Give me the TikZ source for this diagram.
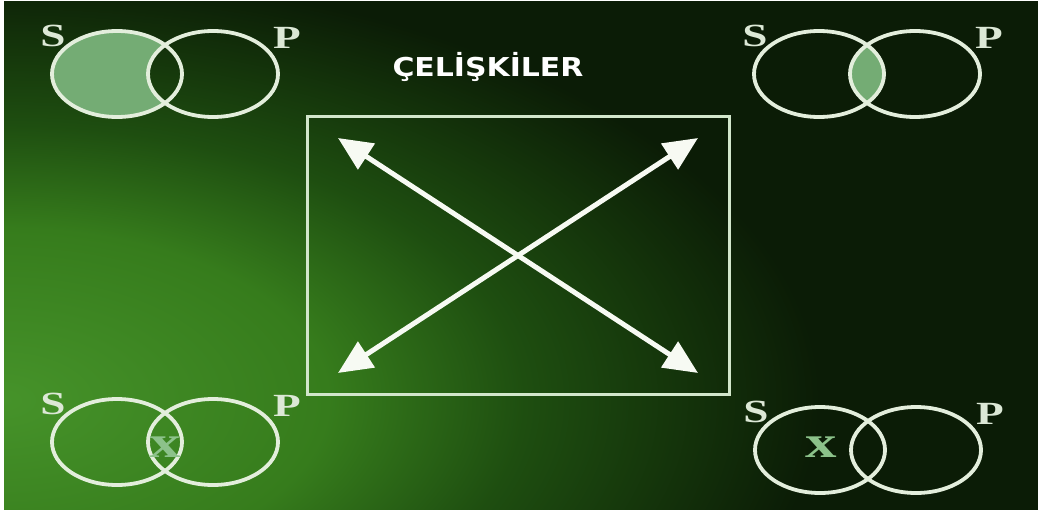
\documentclass[tikz,border=0pt]{standalone}
\usepackage{fontspec}
\setmainfont{Liberation Serif}
\newfontfamily\titlefont{DejaVu Sans}
\usepackage{graphicx}
\usepackage{xcolor}
\usetikzlibrary{
    arrows.meta,
    positioning,
    calc,
    shapes.geometric
}
\definecolor{bgdark}{HTML}{0B1C06}
\definecolor{glowin}{HTML}{46932A}
\definecolor{glowmid}{HTML}{367C1C}
\definecolor{glowlow}{HTML}{1E4E10}
\definecolor{ringcol}{HTML}{E3EEDC}
\definecolor{setfill}{HTML}{74AC74}
\definecolor{labelcol}{HTML}{DCE8D6}
\definecolor{markcol}{HTML}{8CC28A}
\definecolor{boxcol}{HTML}{D2E6CB}
\definecolor{arrowcol}{HTML}{F7FAF3}
\pgfdeclareradialshading{backglow}{\pgfpoint{0bp}{0bp}}{
    color(0bp)=(glowin); color(5bp)=(glowmid); color(8bp)=(glowlow);
    color(12.5bp)=(bgdark); color(50bp)=(bgdark)}
\newcommand{\stretchx}[2][1.4]{\scalebox{#1}[1]{#2}}
\tikzset{
    setring/.style={
        ellipse,
        draw=ringcol,
        line width=0.95mm,
        minimum width=32.5mm,
        minimum height=21.5mm,
        inner sep=0pt
    }
}
\tikzset{
    setlabel/.style={
        font=\fontsize{23}{25}\selectfont\bfseries,
        text=labelcol,
        inner sep=0pt
    }
}
\tikzset{
    elemmark/.style={
        font=\fontsize{32}{34}\selectfont\bfseries,
        text=markcol,
        inner sep=0pt
    }
}
\tikzset{
    titletext/.style={
        font=\titlefont\bfseries\fontsize{18.5}{20}\selectfont,
        text=white,
        inner sep=0pt
    }
}
\tikzset{
    squarebox/.style={
        draw=boxcol,
        line width=0.75mm,
        outer sep=0pt
    }
}
\tikzset{
    relarrow/.style={
        draw=arrowcol,
        line width=1.25mm,
        {Triangle[length=8.5mm,width=7.5mm]}-{Triangle[length=8.5mm,width=7.5mm]}
    }
}

\begin{document}
\begin{tikzpicture}[
    x=0.25mm,
    y=-0.25mm
]

\useasboundingbox (0,0) rectangle (1038,516);
\fill[white] (0,0) rectangle (1038,516);

% ------------------------------------------------------------
% Backdrop: dark green with a glow from the lower left
% ------------------------------------------------------------
\begin{scope}
    \clip (4,2) rectangle (1038,509);
    \fill[bgdark] (4,2) rectangle (1038,509);
    \shade[shading=backglow] (0,400) ellipse [x radius=1640, y radius=860];
\end{scope}

% ------------------------------------------------------------
% Square of opposition
% ------------------------------------------------------------
\node[squarebox, minimum width=105.5mm, minimum height=69.25mm] (square) at (518,255.5) {};
\coordinate (tl) at ($(square.north west)+(31,21)$);
\coordinate (tr) at ($(square.north east)+(-31,21)$);
\coordinate (bl) at ($(square.south west)+(31,-21)$);
\coordinate (br) at ($(square.south east)+(-31,-21)$);
\draw[relarrow] (tl) -- (br);
\draw[relarrow] (bl) -- (tr);

\node[titletext, anchor=base] (title) at (488,77) {\stretchx[1.15]{ÇELİŞKİLER}};

% ------------------------------------------------------------
% Shaded regions of the diagrams
% ------------------------------------------------------------
\begin{scope}[even odd rule]
    \clip (4,2) rectangle (1038,509) (213,74) ellipse [x radius=65, y radius=43];
    \fill[setfill] (117,74) ellipse [x radius=65, y radius=43];
\end{scope}
\begin{scope}
    \clip (819,74) ellipse [x radius=65, y radius=43];
    \fill[setfill] (915,74) ellipse [x radius=65, y radius=43];
\end{scope}

% ------------------------------------------------------------
% Venn diagrams S / P
% ------------------------------------------------------------
\foreach \vn/\vx/\vy in {a/117/74, b/819/74, c/117/442, d/820/450} {
    \node[setring] (s\vn) at (\vx,\vy) {};
    \node[setring] (p\vn) at (\vx+96,\vy) {};
    \node[setlabel] (slabel\vn) at ($(s\vn)+(-64,-38)$) {\stretchx{S}};
    \node[setlabel] (plabel\vn) at ($(p\vn)+(74,-36)$) {\stretchx{P}};
}

\node[elemmark] (xc) at (165,447) {\stretchx{x}};
\node[elemmark] (xd) at (821,447) {\stretchx{x}};

\end{tikzpicture}
\end{document}
